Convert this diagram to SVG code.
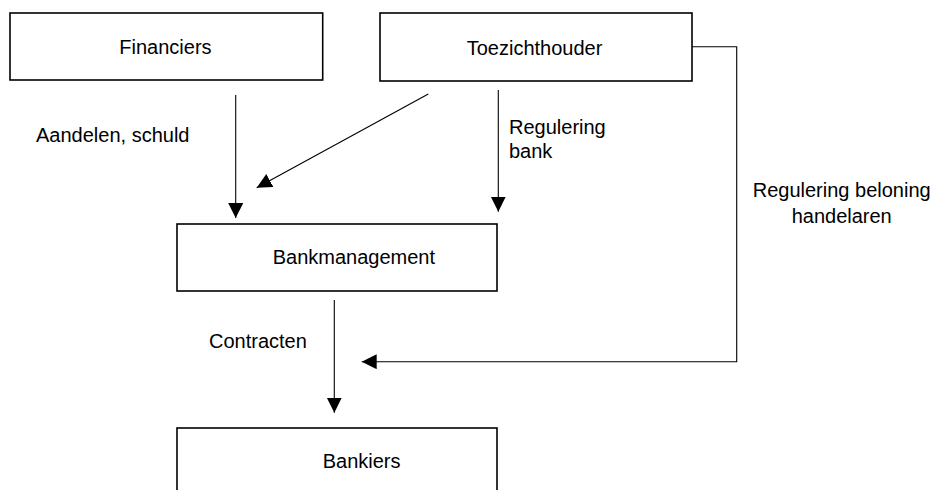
<svg xmlns="http://www.w3.org/2000/svg" width="932" height="490" viewBox="0 0 932 490">
<style>
.box{fill:#fff;stroke:#000;stroke-width:1.6}
.t{font-family:"Liberation Sans",Arial,sans-serif;font-size:20px;fill:#000}
.c{fill:none;stroke:#000;stroke-width:1.1}
</style>
<defs>
<marker id="ah" markerUnits="userSpaceOnUse" markerWidth="16" markerHeight="16" refX="15" refY="7.5" orient="auto" viewBox="0 0 16 16">
<path d="M0,0 L15,7.5 L0,15 z" fill="#000"/>
</marker>
</defs>
<rect width="932" height="490" fill="#fff"/>
<g id="financiers">
<rect class="box" x="10" y="13" width="312.7" height="67"/>
<text class="t" x="119.3" y="54">Financiers</text>
</g>
<g id="toezichthouder">
<rect class="box" x="380" y="13" width="312" height="68"/>
<text class="t" x="466.7" y="55">Toezichthouder</text>
</g>
<g id="bankmanagement">
<rect class="box" x="177" y="224" width="320" height="67"/>
<text class="t" x="272.7" y="264.3">Bankmanagement</text>
</g>
<g id="bankiers">
<rect class="box" x="177" y="428" width="320" height="70"/>
<text class="t" x="322.7" y="468.3">Bankiers</text>
</g>
<g id="connectors">
<line class="c" x1="235.7" y1="95" x2="235.7" y2="218" marker-end="url(#ah)"/>
<line class="c" x1="428.3" y1="94" x2="256.7" y2="187.7" marker-end="url(#ah)"/>
<line class="c" x1="498.3" y1="90" x2="498.3" y2="211.7" marker-end="url(#ah)"/>
<line class="c" x1="334.3" y1="300" x2="334.3" y2="412.7" marker-end="url(#ah)"/>
<polyline class="c" points="692,46.7 736.7,46.7 736.7,361.7 361.7,361.7" marker-end="url(#ah)"/>
<text class="t" x="36" y="141.7">Aandelen, schuld</text>
<text class="t" x="509" y="134.3">Regulering</text>
<text class="t" x="509" y="158.3">bank</text>
<text class="t" x="841.7" y="196.7" text-anchor="middle">Regulering beloning</text>
<text class="t" x="841.7" y="223.3" text-anchor="middle">handelaren</text>
<text class="t" x="209" y="348.3">Contracten</text>
</g>
</svg>
